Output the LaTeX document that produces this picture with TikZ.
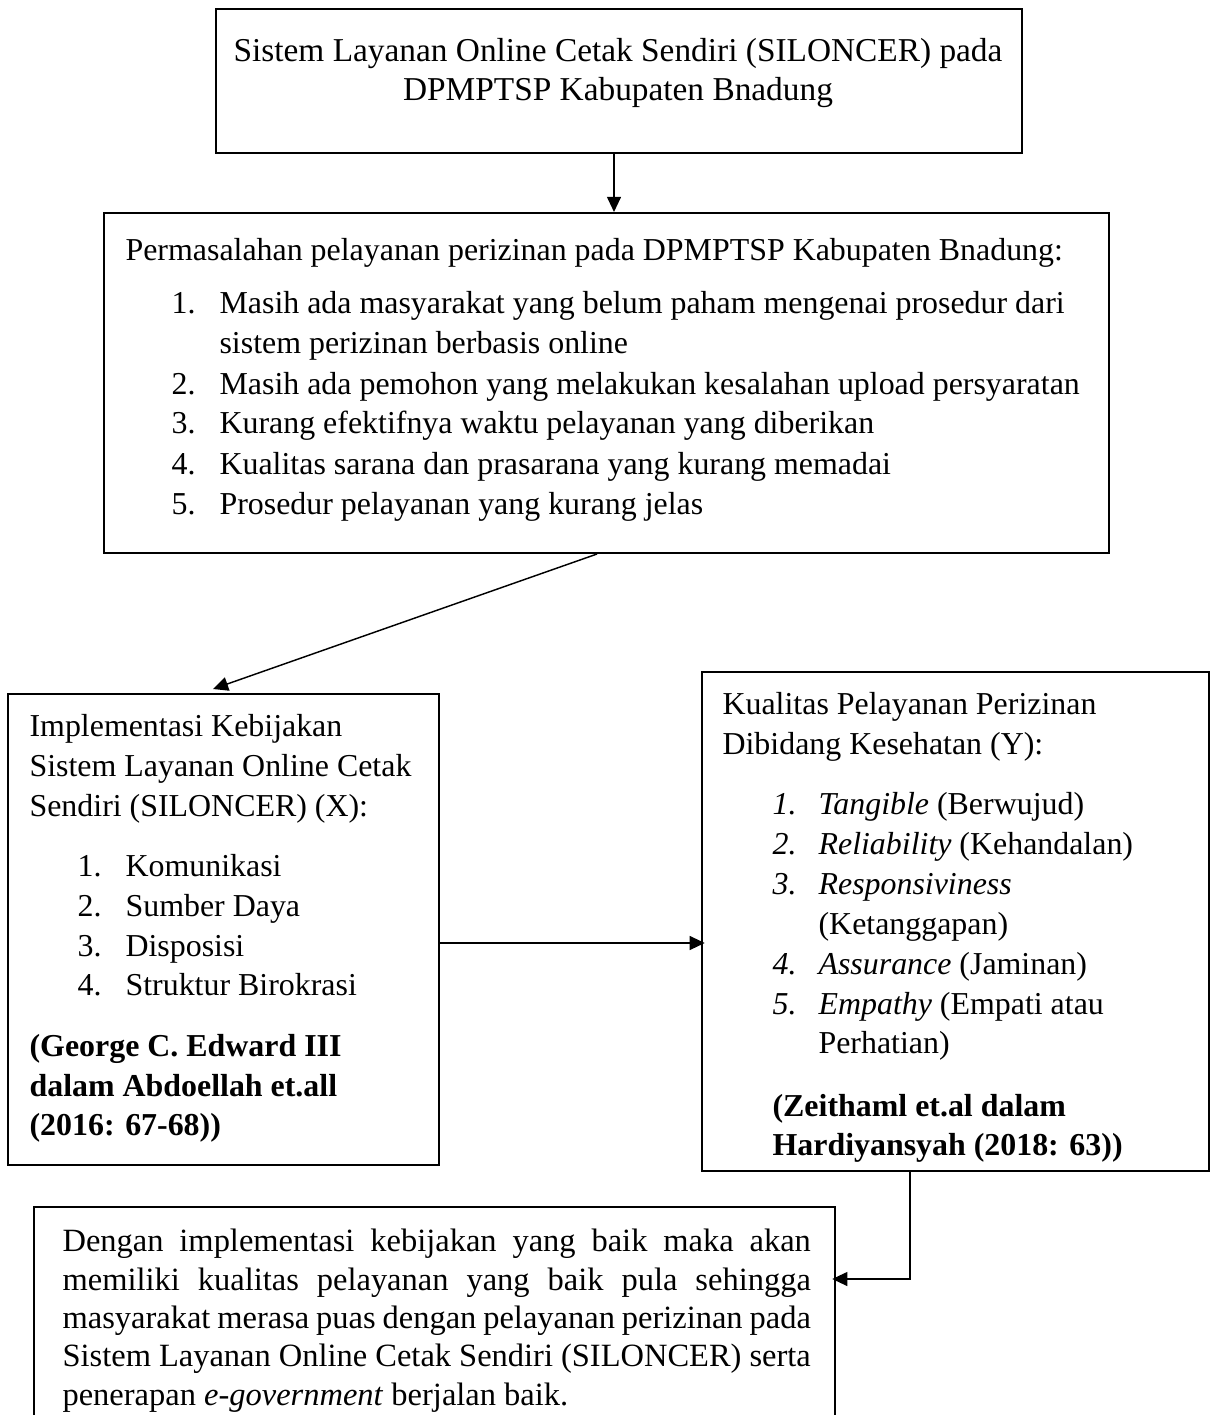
\documentclass[tikz,border=0pt]{standalone}
\usepackage{fontspec}
\setmainfont{Liberation Serif}
\usetikzlibrary{arrows.meta,fit}
\begin{document}
\begin{tikzpicture}[x=0.3448pt,y=-0.3448pt,
  box/.style={draw, line width=0.7pt, inner sep=0pt},
  txt/.style={anchor=base west, inner sep=0pt, font=\fontsize{11pt}{13pt}\selectfont},
  ctxt/.style={anchor=base, inner sep=0pt, font=\fontsize{11.5pt}{13pt}\selectfont},
  jtxt/.style={anchor=base west, inner sep=0pt, font=\fontsize{11.2pt}{13pt}\selectfont},
  conn/.style={line width=0.5pt, -{Triangle[length=5.2pt,width=4.8pt]}}]
\clip (0,0) rectangle (1211,1415);
% boxes
\node[box, fit={(216,9) (1022,153)}] (b1) {};
\node[box, fit={(104,213) (1109,553)}] (b2) {};
\node[box, fit={(8,694) (439,1165)}] (b3) {};
\node[box, fit={(702,672) (1209,1171)}] (b4) {};
\node[box, fit={(34,1207) (835,1450)}] (b5) {};
% box 1 text
\node[ctxt] (t11) at (618,62) {Sistem Layanan Online Cetak Sendiri (SILONCER) pada};
\node[ctxt] (t12) at (618,101) {DPMPTSP Kabupaten Bnadung};
% box 2 text
\node[txt] (t20) at (125,261) {Permasalahan pelayanan perizinan pada DPMPTSP Kabupaten Bnadung:};
\node[txt] (n21) at (171,314) {1.};
\node[txt] (t21) at (219,314) {Masih ada masyarakat yang belum paham mengenai prosedur dari};
\node[txt] (t21b) at (219,354) {sistem perizinan berbasis online};
\node[txt] (n22) at (171,394) {2.};
\node[txt] (t22) at (219,394) {Masih ada pemohon yang melakukan kesalahan upload persyaratan};
\node[txt] (n23) at (171,434) {3.};
\node[txt] (t23) at (219,434) {Kurang efektifnya waktu pelayanan yang diberikan};
\node[txt] (n24) at (171,474) {4.};
\node[txt] (t24) at (219,474) {Kualitas sarana dan prasarana yang kurang memadai};
\node[txt] (n25) at (171,514) {5.};
\node[txt] (t25) at (219,514) {Prosedur pelayanan yang kurang jelas};
% box 3 text
\node[txt] (t31) at (29,736) {Implementasi Kebijakan};
\node[txt] (t32) at (29,776) {Sistem Layanan Online Cetak};
\node[txt] (t33) at (29,816) {Sendiri (SILONCER) (X):};
\node[txt] (n34) at (77,876) {1.};
\node[txt] (t34) at (125,876) {Komunikasi};
\node[txt] (n35) at (77,916) {2.};
\node[txt] (t35) at (125,916) {Sumber Daya};
\node[txt] (n36) at (77,956) {3.};
\node[txt] (t36) at (125,956) {Disposisi};
\node[txt] (n37) at (77,995) {4.};
\node[txt] (t37) at (125,995) {Struktur Birokrasi};
\node[txt] (t38) at (29,1056) {\bfseries (George C. Edward III};
\node[txt] (t39) at (29,1096) {\bfseries dalam Abdoellah et.all};
\node[txt] (t310) at (29,1135) {\bfseries (2016: 67-68))};
% box 4 text
\node[txt] (t41) at (722,714) {Kualitas Pelayanan Perizinan};
\node[txt] (t42) at (722,754) {Dibidang Kesehatan (Y):};
\node[txt] (n43) at (772,814) {\itshape 1.};
\node[txt] (t43) at (818,814) {\textit{Tangible} (Berwujud)};
\node[txt] (n44) at (772,854) {\itshape 2.};
\node[txt] (t44) at (818,854) {\textit{Reliability} (Kehandalan)};
\node[txt] (n45) at (772,894) {\itshape 3.};
\node[txt] (t45) at (818,894) {\textit{Responsiviness}};
\node[txt] (t45b) at (818,934) {(Ketanggapan)};
\node[txt] (n46) at (772,974) {\itshape 4.};
\node[txt] (t46) at (818,974) {\textit{Assurance} (Jaminan)};
\node[txt] (n47) at (772,1014) {\itshape 5.};
\node[txt] (t47) at (818,1014) {\textit{Empathy} (Empati atau};
\node[txt] (t47b) at (818,1053) {Perhatian)};
\node[txt] (t48) at (772,1116) {\bfseries (Zeithaml et.al dalam};
\node[txt] (t49) at (772,1155) {\bfseries Hardiyansyah (2018: 63))};
% box 5 text
\node[jtxt] (t51) at (62,1251) {\makebox[258pt][s]{Dengan implementasi kebijakan yang baik maka akan}};
\node[jtxt] (t52) at (62,1290) {\makebox[258pt][s]{memiliki kualitas pelayanan yang baik pula sehingga}};
\node[jtxt] (t53) at (62,1328) {\makebox[258pt][s]{masyarakat merasa puas dengan pelayanan perizinan pada}};
\node[jtxt] (t54) at (62,1366) {\makebox[258pt][s]{Sistem Layanan Online Cetak Sendiri (SILONCER) serta}};
\node[jtxt] (t55) at (62,1405) {penerapan \textit{e-government} berjalan baik.};
% connector helper coordinates
\coordinate (a1) at (614,0);
\coordinate (d1) at (597,0);
\coordinate (d2) at (213,689);
\coordinate (h) at (0,943);
\coordinate (v) at (910,0);
\coordinate (w) at (0,1279);
% connectors
\draw[conn] (b1.south -| a1) -- (b2.north -| a1);
\draw[conn] (b2.south -| d1) -- (d2);
\draw[conn, shorten >=-1.3pt] (b3.east |- h) -- (b4.west |- h);
\draw[conn, shorten >=-1.3pt] (b4.south -| v) |- (b5.east |- w);
\end{tikzpicture}
\end{document}
